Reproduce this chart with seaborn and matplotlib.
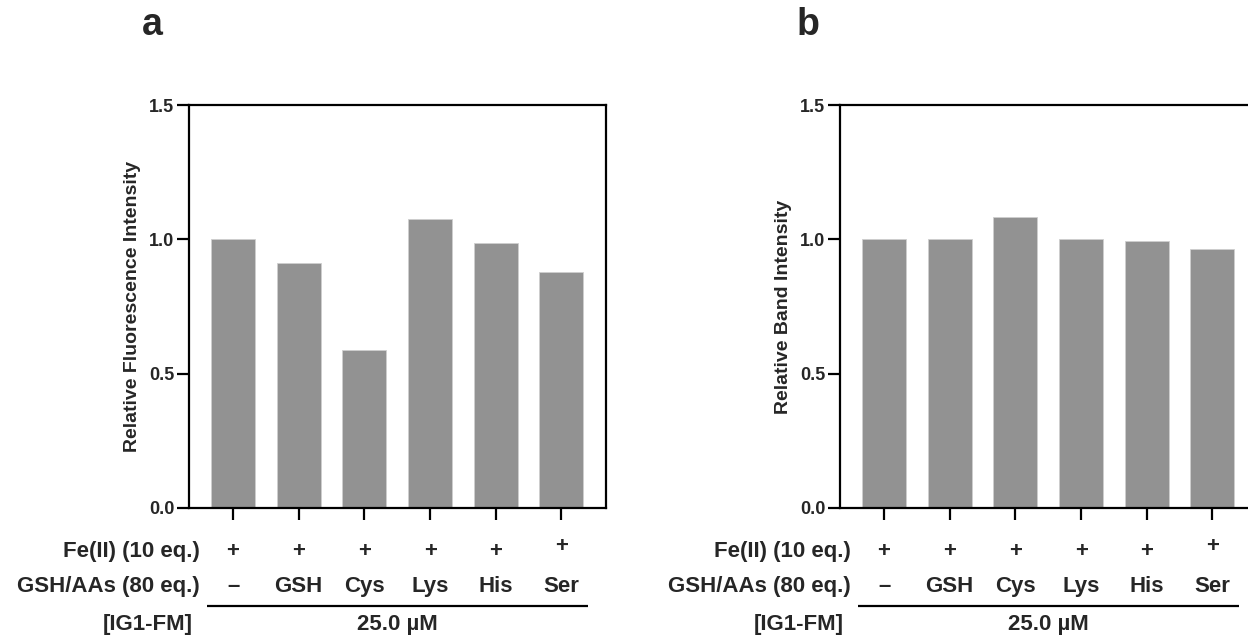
import matplotlib
matplotlib.use("Agg")
import matplotlib.pyplot as plt
import seaborn as sns
import pandas as pd

# ---- data ----
conditions = ["–", "GSH", "Cys", "Lys", "His", "Ser"]
fe_row = ["+", "+", "+", "+", "+", "+"]
fluorescence = [1.00, 0.913, 0.588, 1.076, 0.987, 0.877]
band = [1.00, 1.00, 1.084, 1.00, 0.994, 0.964]
yticks = [0.0, 0.5, 1.0, 1.5]
ytick_labels = ["0.0", "0.5", "1.0", "1.5"]
row_labels = ["Fe(II) (10 eq.)", "GSH/AAs (80 eq.)", "[IG1-FM]"]
conc_label = "25.0 µM"
panel_letters = ["a", "b"]
ylabels = ["Relative Fluorescence Intensity", "Relative Band Intensity"]

sns.set_style("ticks")
plt.rcParams["font.family"] = ["Liberation Sans", "DejaVu Sans"]
plt.rcParams["font.weight"] = "bold"

fig = plt.figure(figsize=(12.48, 6.38), dpi=100)
W, H = 1248, 638
ax_w = 416.5
axes_px = [(189, 508, 105), (840, 508, 105)]
BAR_COLOR = "#929292"
FS_ROW = 16

for i, (vals, ylab, letter) in enumerate(zip([fluorescence, band], ylabels, panel_letters)):
    left, bot, top = axes_px[i]
    ax = fig.add_axes([left / W, (H - bot) / H, ax_w / W, (bot - top) / H])
    df = pd.DataFrame({"cond": conditions, "val": vals})
    sns.barplot(data=df, x="cond", y="val", order=conditions, color=BAR_COLOR,
                width=0.67, edgecolor="#cfcfcf", linewidth=0.6, saturation=1,
                ax=ax, zorder=2)
    for p in ax.patches:
        p.set_facecolor(BAR_COLOR)
    ax.set_xlim(-0.67, 5.67)
    ax.set_ylim(0, 1.5)
    ax.set_yticks(yticks)
    ax.set_yticklabels(ytick_labels, fontsize=13, fontweight="bold")
    ax.set_xticks(range(len(conditions)))
    ax.set_xticklabels([])
    ax.set_xlabel("")
    ax.set_ylabel(ylab, fontsize=14, fontweight="bold", labelpad=6)
    for s in ax.spines.values():
        s.set_linewidth(1.6)
        s.set_color("black")
        s.set_visible(True)
    ax.tick_params(axis="both", direction="out", length=8.5, width=1.6, color="black", pad=2)

    tr = ax.get_xaxis_transform()
    # Fe row
    for j, s in enumerate(fe_row):
        yy = -0.109 if j == len(fe_row) - 1 else -0.1216
        ax.text(j, yy, s, transform=tr, ha="center", va="baseline",
                fontsize=FS_ROW, fontweight="bold", clip_on=False)
    # GSH/AAs row
    for j, s in enumerate(conditions):
        ax.text(j, -0.2084, s, transform=tr, ha="center", va="baseline",
                fontsize=FS_ROW, fontweight="bold", clip_on=False)
    ax.text(-0.5, -0.1216, row_labels[0], transform=tr, ha="right", va="baseline",
            fontsize=FS_ROW, fontweight="bold", clip_on=False)
    ax.text(-0.5, -0.2084, row_labels[1], transform=tr, ha="right", va="baseline",
            fontsize=FS_ROW, fontweight="bold", clip_on=False)
    ax.text(-1.3, -0.3027, row_labels[2], transform=tr, ha="center", va="baseline",
            fontsize=FS_ROW, fontweight="bold", clip_on=False)
    ax.text(2.5, -0.3027, conc_label, transform=tr, ha="center", va="baseline",
            fontsize=FS_ROW, fontweight="bold", clip_on=False)
    ax.plot([-0.4, 5.4], [-0.243, -0.243], transform=tr, color="black",
            lw=1.6, clip_on=False, solid_capstyle="butt")

    # panel letter
    lx = 152 if i == 0 else 808
    fig.text(lx / W, (H - 25) / H, letter, ha="center", va="center",
             fontsize=27, fontweight="bold")

fig.savefig("out.png", dpi=100)
